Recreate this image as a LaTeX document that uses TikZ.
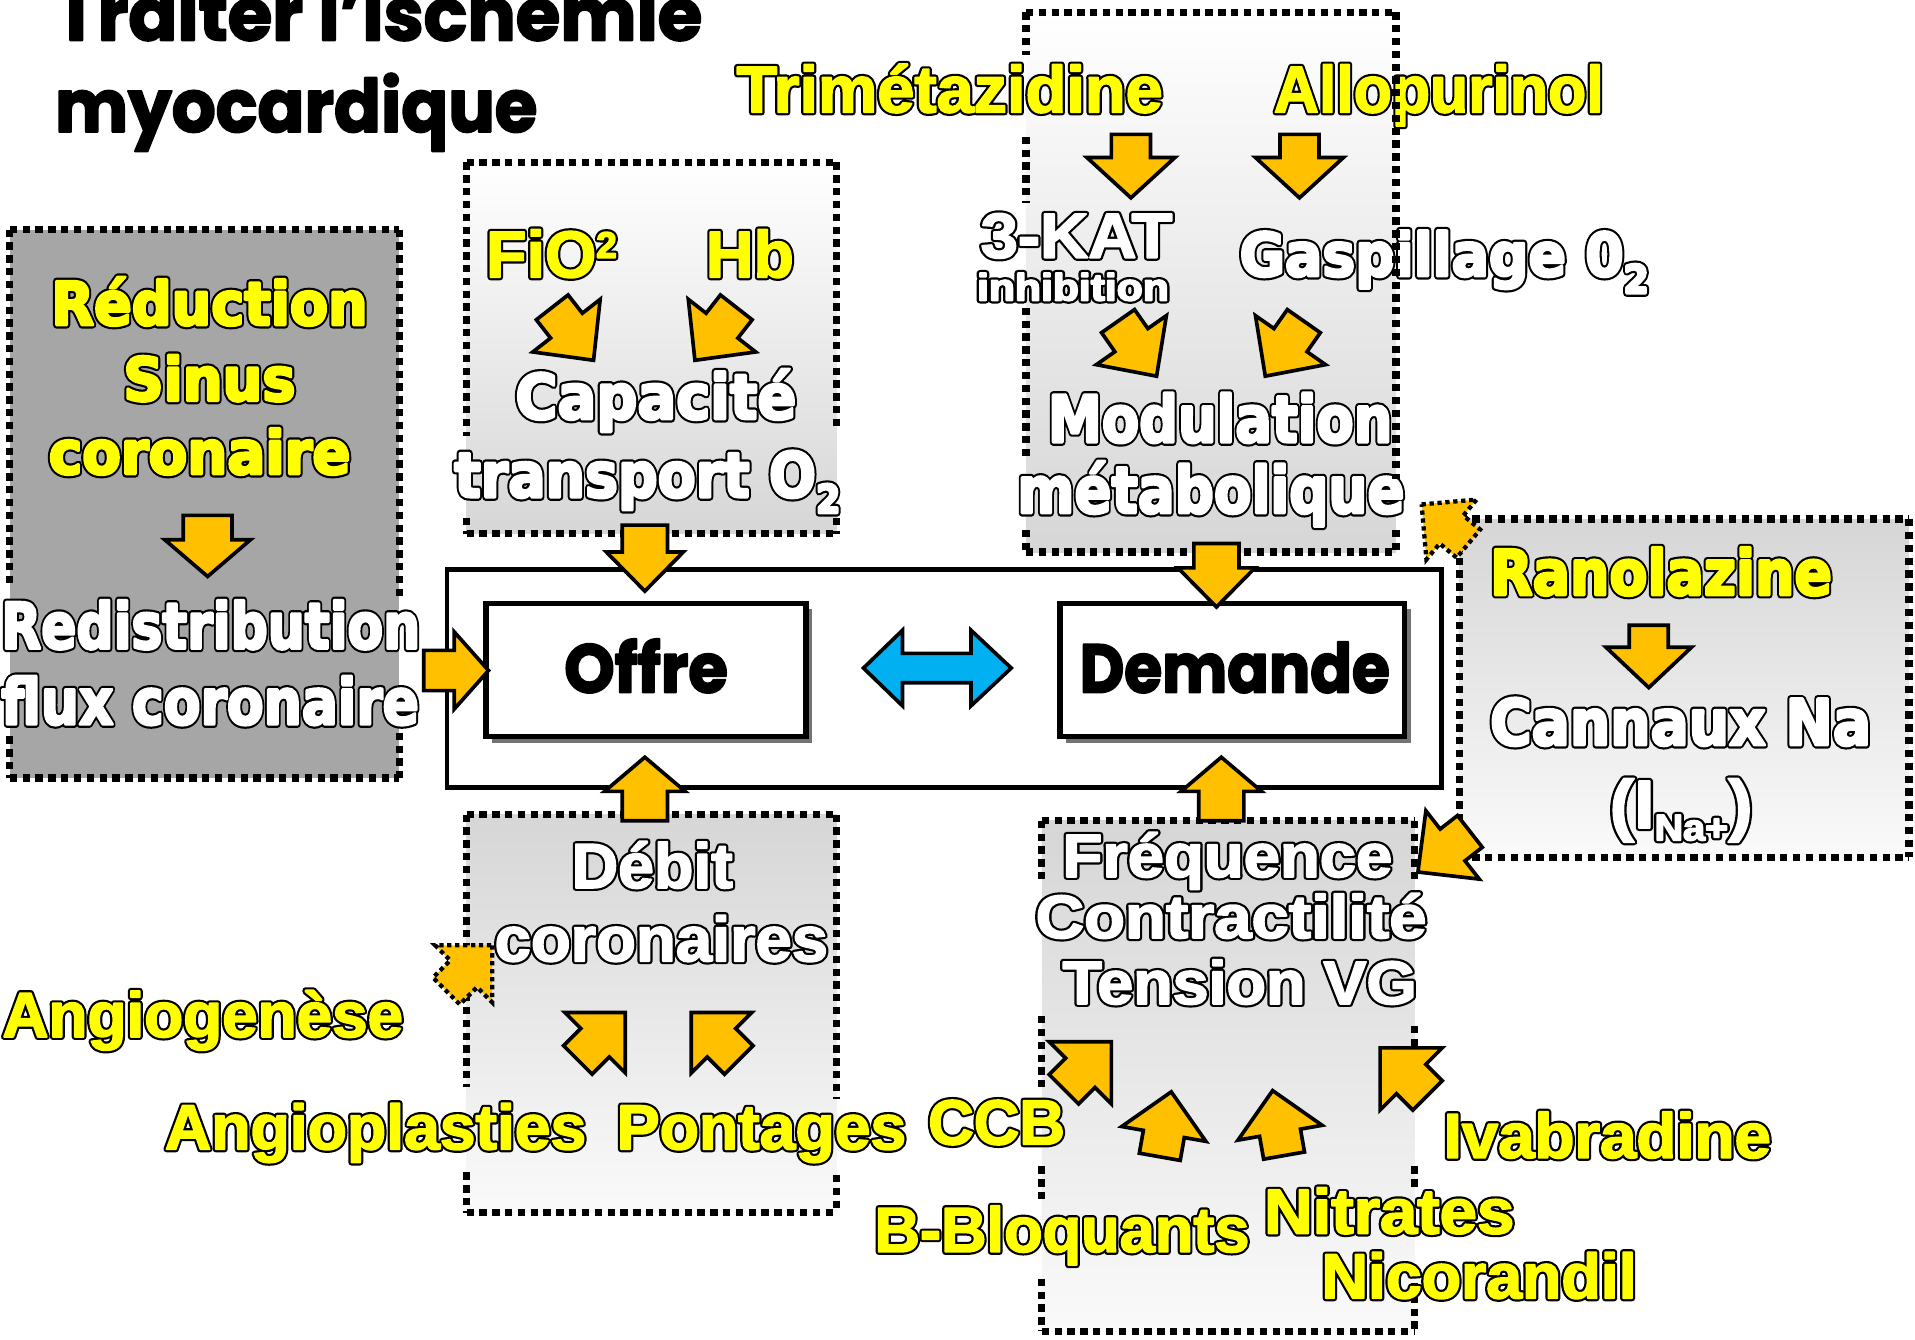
\documentclass[tikz,border=0pt]{standalone}
\usepackage{fontspec}
\usepackage{graphicx}
\usetikzlibrary{shadows}
\newfontfamily\wideF{DejaVu Sans}
\newfontfamily\narF{Liberation Sans}
\newfontfamily\futF{Poppins}
\definecolor{orng}{HTML}{FFC000}
\definecolor{ylw}{HTML}{FFFF00}
\definecolor{sky}{HTML}{00B0F0}
\definecolor{boxgray}{HTML}{A6A6A6}
\definecolor{lg}{HTML}{D6D6D6}
\definecolor{vlg}{HTML}{FAFAFA}
\newsavebox\fitbox
\newcommand\fitx[2]{\sbox\fitbox{#2}\pgfmathsetmacro\fsx{#1/\wd\fitbox}\scalebox{\fsx}[1]{\usebox\fitbox}}
% outline: black stroked copy underneath (width #1), coloured copy on top, thickened by a stroke of its own colour (width #2)
\newcommand\outl[3]{\rlap{\special{pdf:literal direct q 0 0 0 rg 0 0 0 RG #1 w 1 j 2 Tr}#3\special{pdf:literal direct Q}}\special{pdf:literal direct q #2 w 1 j 2 Tr}#3\special{pdf:literal direct Q}}
\newcommand\thick[2]{\special{pdf:literal direct q 0 0 0 RG #1 w 1 j 2 Tr}#2\special{pdf:literal direct Q}}
\newcommand\wtxt[4]{{\wideF\bfseries\fontsize{#1}{#1}\selectfont\fitx{#3}{\color{#2}\outl{6}{2.4}{#4}}}}
\newcommand\ntxt[4]{{\narF\bfseries\fontsize{#1}{#1}\selectfont\fitx{#3}{\color{#2}\outl{5}{1.4}{#4}}}}
\newcommand\ftxt[3]{{\futF\bfseries\fontsize{#1}{#1}\selectfont\fitx{#2}{\thick{1.6}{#3}}}}
\newcommand\mysub[3]{\raisebox{#1pt}{\fontsize{#2}{#2}\selectfont #3}}
\tikzset{
  txt/.style={inner sep=0pt, outer sep=0pt, anchor=base west},
  oarrow/.style={fill=orng, draw=black, line width=3pt, line join=miter},
  dotarr/.style={line width=3.5pt, dash pattern=on 3.5pt off 3pt},
  dbord/.style={line width=6pt, dash pattern=on 6pt off 4.5pt, line cap=butt},
  obox/.style={draw, line width=4.5pt, fill=white, inner sep=0pt,
    drop shadow={shadow xshift=5pt, shadow yshift=-5pt, opacity=0.55, fill=black}}
}
\newcommand\blockarr[8][]{\begin{scope}[shift={(#2,#3)},rotate=#4]
\draw[oarrow,#1] (0,0) -- (-#6,#7/2) -- (-#6,#8/2) -- (-#5,#8/2) -- (-#5,-#8/2) -- (-#6,-#8/2) -- (-#6,-#7/2) -- cycle;
\end{scope}}
\newcommand\hbord[3]{\draw[dbord] (#1,#3) -- (#2,#3);}
\newcommand\vbord[3]{\draw[dbord] (#1,#2) -- (#1,#3);}
\begin{document}
\begin{tikzpicture}[x=1pt,y=-1pt]
\useasboundingbox (0,0) rectangle (1568,1097);
\clip (0,0) rectangle (1568,1097);
% box fills
\fill[boxgray] (8,188) rectangle (327,637);
\shade[top color=white, bottom color=lg] (382,133) rectangle (685,437);
\shade[top color=white, bottom color=lg] (840,10) rectangle (1143,452);
\shade[top color=lg, bottom color=vlg] (1195,425) rectangle (1563,702);
\shade[top color=lg, bottom color=vlg] (382,667) rectangle (685,993);
\shade[top color=lg, bottom color=vlg] (853,672) rectangle (1158,1090);
% dotted borders
\hbord{8}{327}{188} \hbord{8}{327}{637} \vbord{8}{188}{482} \vbord{8}{603}{637} \vbord{327}{188}{490} \vbord{327}{600}{637}
\hbord{382}{685}{133} \hbord{382}{685}{437} \vbord{382}{133}{357} \vbord{382}{424}{437} \vbord{685}{133}{353} \vbord{685}{424}{437}
\hbord{840}{1143}{10} \hbord{840}{1143}{452} \vbord{840}{10}{45} \vbord{840}{112}{166} \vbord{840}{252}{378} \vbord{840}{434}{452}
\hbord{1195}{1563}{425} \hbord{1195}{1563}{702} \vbord{1195}{425}{702} \vbord{1563}{425}{702}
\hbord{382}{685}{667} \hbord{382}{685}{993} \vbord{382}{667}{890} \vbord{382}{960}{993} \vbord{685}{667}{900} \vbord{685}{962}{993}
\hbord{853}{1158}{672} \hbord{853}{1158}{1090} \vbord{853}{672}{722} \vbord{853}{832}{890} \vbord{853}{955}{983} \vbord{853}{1047}{1090}
\vbord{1158}{672}{722} \vbord{1158}{840}{857} \vbord{1158}{955}{975} \vbord{1158}{1040}{1090}
% central frame
\node[draw, line width=4pt, fill=white, inner sep=0pt, minimum width=814pt, minimum height=179pt] (outer) at (773,555.5) {};
\node[obox, minimum width=262pt, minimum height=109pt] (offrebox) at (529,548.5) {};
\node[obox, minimum width=282pt, minimum height=109pt] (dembox) at (1009,548.5) {};
% blue double arrow
\draw[fill=sky, line width=3pt, line join=miter] (707,547) -- (739,516) -- (739,535) -- (795,535) -- (795,516) -- (828,547) -- (795,578) -- (795,559) -- (739,559) -- (739,578) -- cycle;
% orange block arrows
\blockarr{170}{472}{-90}{50}{30}{70}{40}
\blockarr{528}{484}{-90}{54}{32}{63}{37}
\blockarr{996}{497}{-90}{52}{32}{63}{37}
\blockarr{926}{162}{-90}{52}{33}{72}{32}
\blockarr{1064}{162}{-90}{52}{33}{72}{32}
\blockarr{1350}{563}{-90}{51}{33}{70}{32}
\blockarr{528}{620}{90}{52}{28}{66}{37}
\blockarr{1000}{620}{90}{52}{28}{66}{37}
\blockarr{400}{549}{0}{53}{28}{63}{33}
\blockarr{486}{295}{-52}{55}{36}{70}{33}
\blockarr{569}{295}{-128}{55}{36}{70}{33}
\blockarr{947}{308}{-55}{55}{36}{70}{33}
\blockarr{1036}{308}{-125}{55}{36}{70}{33}
\blockarr[dotarr]{1164}{413}{140}{50}{32}{64}{30}
\blockarr{1161}{714}{-142}{54}{36}{71}{33}
\blockarr[dotarr]{403}{774}{45}{53}{33}{66}{31}
\blockarr{512}{829}{45}{55}{35}{70}{33}
\blockarr{566}{829}{135}{55}{35}{70}{33}
\blockarr{910}{853}{45}{55}{36}{72}{34}
\blockarr{1130}{858}{135}{55}{36}{72}{34}
\blockarr{959}{894}{80}{54}{35}{70}{34}
\blockarr{1042}{893}{100}{54}{35}{70}{34}
% title
\node[txt] (title1) at (45,33) {\ftxt{60}{530}{Traiter l’ischémie}};
\node[txt] (title2) at (45,108) {\ftxt{60}{395}{myocardique}};
% left box
\node[txt] (reduc) at (42,266) {\wtxt{49}{ylw}{259}{Réduction}};
\node[txt] (sinus) at (101,328) {\wtxt{49}{ylw}{141}{Sinus}};
\node[txt] (coron) at (40,388) {\wtxt{49}{ylw}{247}{coronaire}};
\node[txt] (redis) at (1,531) {\wtxt{52}{white}{343}{Redistribution}};
\node[txt] (flux) at (1,593) {\wtxt{52}{white}{342}{flux coronaire}};
% capacite box
\node[txt] (fio) at (398,227) {\ntxt{54}{ylw}{107}{FiO\mysub{16}{30}{2}}};
\node[txt] (hb) at (578,227) {\ntxt{54}{ylw}{72}{Hb}};
\node[txt] (capa) at (422,343) {\wtxt{51}{white}{230}{Capacité}};
\node[txt] (transp) at (372,407) {\wtxt{51}{white}{316}{transport O\mysub{-13}{32}{2}}};
% metabolic box
\node[txt] (trim) at (603,92) {\ntxt{54}{ylw}{349}{Trimétazidine}};
\node[txt] (allo) at (1043,92) {\ntxt{54}{ylw}{270}{Allopurinol}};
\node[txt] (kat) at (803,211) {\ntxt{52}{white}{157}{3-KAT}};
\node[txt] (inhib) at (800,246) {\ntxt{31}{white}{157}{inhibition}};
\node[txt] (gasp) at (1015,226) {\wtxt{49}{white}{335}{Gaspillage 0\mysub{-14}{32}{2}}};
\node[txt] (modul) at (858,362) {\wtxt{53}{white}{282}{Modulation}};
\node[txt] (metab) at (833,420) {\wtxt{53}{white}{317}{métabolique}};
% ranolazine box
\node[txt] (rano) at (1220,487) {\wtxt{51}{ylw}{280}{Ranolazine}};
\node[txt] (cann) at (1220,610) {\wtxt{52}{white}{312}{Cannaux Na}};
\node[txt] (ina) at (1318,678) {\ntxt{56}{white}{117}{(I\mysub{-10}{30}{Na+})}};
% debit box
\node[txt] (debit) at (468,727) {\ntxt{52}{white}{132}{Débit}};
\node[txt] (coros) at (405,787) {\ntxt{52}{white}{273}{coronaires}};
% frequence box
\node[txt] (freq) at (870,718) {\ntxt{50}{white}{270}{Fréquence}};
\node[txt] (contr) at (848,768) {\ntxt{50}{white}{320}{Contractilité}};
\node[txt] (tens) at (870,822) {\ntxt{50}{white}{290}{Tension VG}};
% lower labels
\node[txt] (angiog) at (2,849) {\ntxt{52}{ylw}{328}{Angiogenèse}};
\node[txt] (angiop) at (135,941) {\ntxt{52}{ylw}{345}{Angioplasties}};
\node[txt] (pont) at (505,941) {\ntxt{52}{ylw}{237}{Pontages}};
\node[txt] (ccb) at (760,937) {\ntxt{52}{ylw}{112}{CCB}};
\node[txt] (bbloq) at (716,1025) {\ntxt{52}{ylw}{307}{B-Bloquants}};
\node[txt] (nitr) at (1035,1010) {\ntxt{52}{ylw}{205}{Nitrates}};
\node[txt] (nico) at (1082,1063) {\ntxt{52}{ylw}{258}{Nicorandil}};
\node[txt] (ivab) at (1182,948) {\ntxt{52}{ylw}{268}{Ivabradine}};
% offre / demande
\node[txt] (offre) at (462,567) {\ftxt{56}{134}{Offre}};
\node[txt] (dem) at (884,567) {\ftxt{56}{254}{Demande}};
% metabolic right border on top
\vbord{1143}{10}{392} \vbord{1143}{434}{452}
\end{tikzpicture}
\end{document}
